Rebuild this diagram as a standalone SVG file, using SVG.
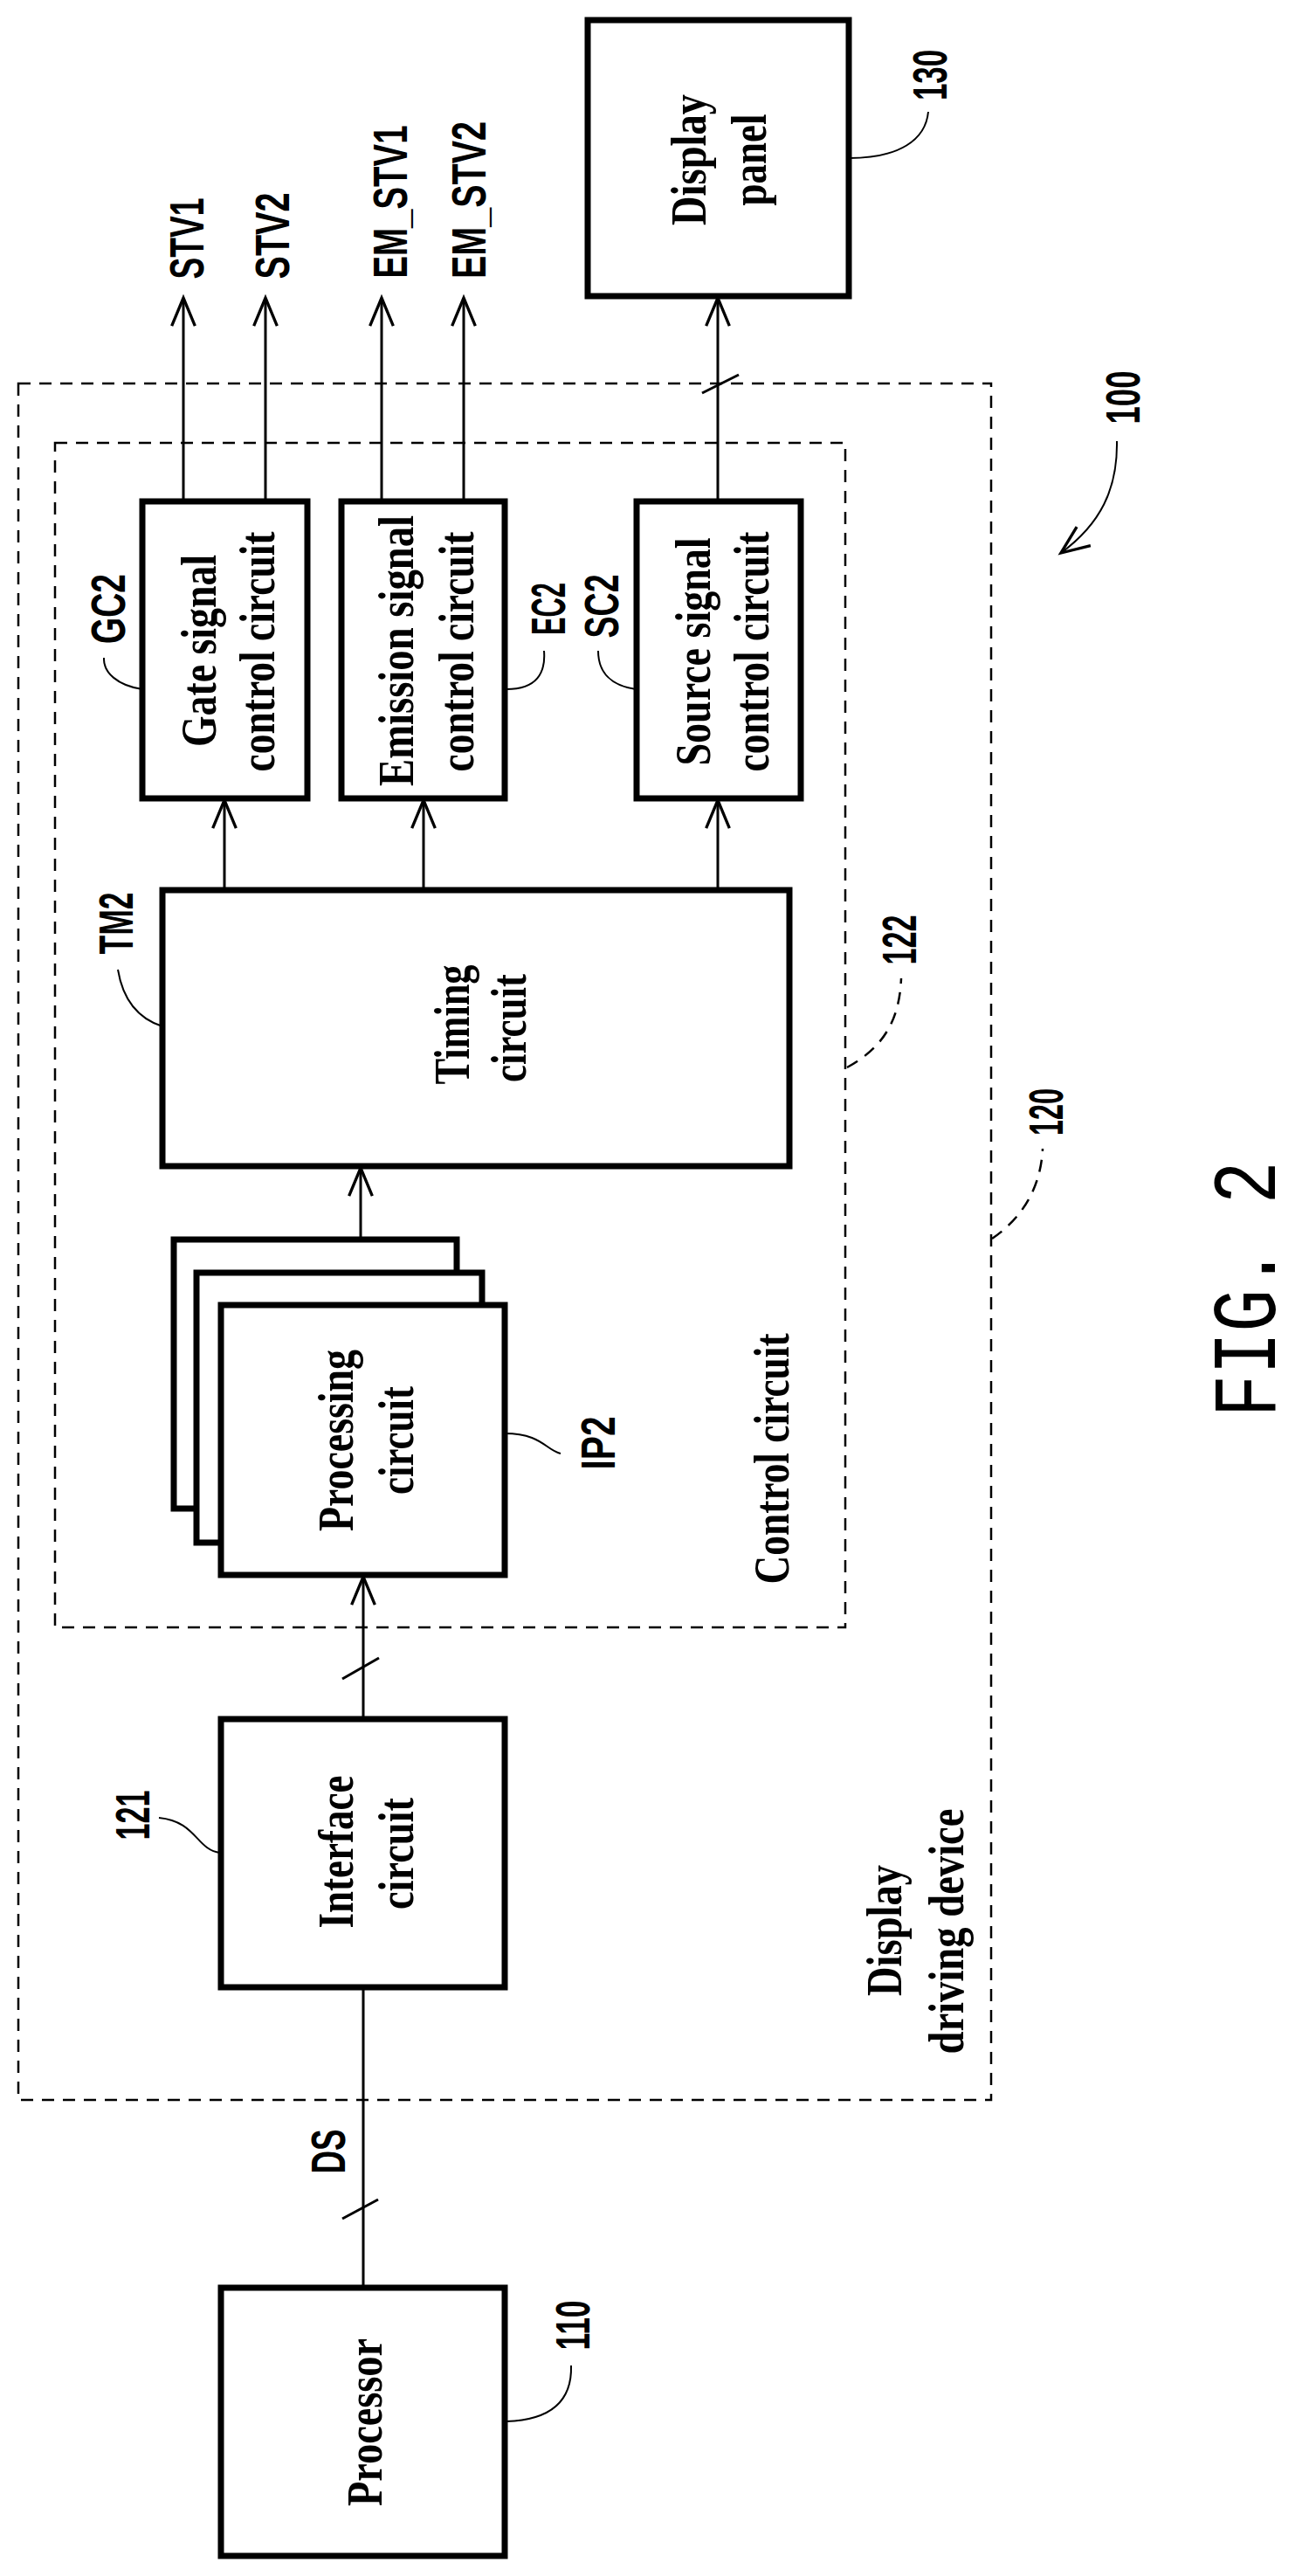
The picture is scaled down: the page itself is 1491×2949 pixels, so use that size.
<svg xmlns="http://www.w3.org/2000/svg" width="1491" height="2949" viewBox="0 0 1491 2949">
<defs>
<marker id="ah" markerUnits="userSpaceOnUse" markerWidth="40" markerHeight="40" viewBox="-32 -16 36 32" refX="0" refY="0" orient="auto">
<path d="M-29,-12 L0,0 L-29,12" fill="none" stroke="#000" stroke-width="3"/>
</marker>
</defs>
<style>
.box{fill:#fff;stroke:#000;stroke-width:7}
.dash{fill:none;stroke:#000;stroke-width:2.5;stroke-dasharray:14 10}
.ln{fill:none;stroke:#000;stroke-width:3}
.lead{fill:none;stroke:#000;stroke-width:2}
.arr{fill:none;stroke:#000;stroke-width:3;marker-end:url(#ah)}
.s{font-family:"Liberation Serif",serif;font-size:58px;font-weight:bold;text-anchor:middle}
.a{font-family:"Liberation Sans",sans-serif;font-size:56px;font-weight:bold;text-anchor:middle}
</style>
<rect width="1491" height="2949" fill="#fff"/>
<g id="frame120"><rect class="dash" x="21" y="439" width="1114" height="1965"/>
<text class="s" textLength="150" lengthAdjust="spacingAndGlyphs" transform="translate(1032,2210) rotate(-90)">Display</text>
<text class="s" textLength="281" lengthAdjust="spacingAndGlyphs" transform="translate(1103,2211) rotate(-90)">driving device</text>
<text class="a" textLength="54" lengthAdjust="spacingAndGlyphs" transform="translate(1217,1273) rotate(-90)">120</text>
<path class="dash" d="M1136,1418 C1170,1395 1192,1360 1194,1315"/></g>
<g id="frame122"><rect class="dash" x="63" y="507" width="905" height="1356"/>
<text class="s" textLength="287" lengthAdjust="spacingAndGlyphs" transform="translate(903,1670) rotate(-90)">Control circuit</text>
<text class="a" textLength="57" lengthAdjust="spacingAndGlyphs" transform="translate(1049,1076) rotate(-90)">122</text>
<path class="dash" d="M970,1222 C1010,1200 1030,1170 1032,1120"/></g>
<g id="connectors">
<line class="arr" x1="416" y1="2619" x2="416" y2="1970"/>
<line class="ln" x1="392" y1="2540" x2="433" y2="2518"/>
<line class="arr" x1="416" y1="1968" x2="416" y2="1805"/>
<line class="ln" x1="392" y1="1922" x2="434" y2="1898"/>
<line class="arr" x1="413" y1="1419" x2="413" y2="1337"/>
<line class="arr" x1="257" y1="1019" x2="257" y2="916"/>
<line class="arr" x1="485" y1="1019" x2="485" y2="916"/>
<line class="arr" x1="822" y1="1019" x2="822" y2="916"/>
<line class="arr" x1="210" y1="574" x2="210" y2="341"/>
<line class="arr" x1="304" y1="574" x2="304" y2="341"/>
<line class="arr" x1="437" y1="574" x2="437" y2="341"/>
<line class="arr" x1="531" y1="574" x2="531" y2="341"/>
<line class="arr" x1="822" y1="574" x2="822" y2="341"/>
<line class="ln" x1="804" y1="450" x2="846" y2="429"/>
<text class="a" textLength="93" lengthAdjust="spacingAndGlyphs" transform="translate(233,273) rotate(-90)">STV1</text>
<text class="a" textLength="99" lengthAdjust="spacingAndGlyphs" transform="translate(331,270) rotate(-90)">STV2</text>
<text class="a" textLength="175" lengthAdjust="spacingAndGlyphs" transform="translate(466,231) rotate(-90)">EM_STV1</text>
<text class="a" textLength="180" lengthAdjust="spacingAndGlyphs" transform="translate(556,229) rotate(-90)">EM_STV2</text>
<text class="a" textLength="51" lengthAdjust="spacingAndGlyphs" transform="translate(395,2463) rotate(-90)">DS</text>
</g>
<g id="n130"><rect class="box" x="673" y="23" width="299" height="316"/>
<text class="s" textLength="150" lengthAdjust="spacingAndGlyphs" transform="translate(808,183) rotate(-90)">Display</text>
<text class="s" textLength="105" lengthAdjust="spacingAndGlyphs" transform="translate(877,183) rotate(-90)">panel</text>
<text class="a" textLength="58" lengthAdjust="spacingAndGlyphs" transform="translate(1084,86) rotate(-90)">130</text>
<path class="lead" d="M972,181 C1030,181 1060,160 1063,128"/></g>
<g id="n100"><text class="a" textLength="61" lengthAdjust="spacingAndGlyphs" transform="translate(1305,455) rotate(-90)">100</text>
<path class="arr" style="stroke-width:2" d="M1279,505 C1280,560 1260,600 1215,633"/></g>
<g id="GC2"><rect class="box" x="163" y="574" width="189" height="340"/>
<text class="s" textLength="220" lengthAdjust="spacingAndGlyphs" transform="translate(247,745) rotate(-90)">Gate signal</text>
<text class="s" textLength="275" lengthAdjust="spacingAndGlyphs" transform="translate(314,746) rotate(-90)">control circuit</text>
<text class="a" textLength="80" lengthAdjust="spacingAndGlyphs" transform="translate(143,697) rotate(-90)">GC2</text>
<path class="lead" d="M163,789 C135,785 118,770 119,753"/></g>
<g id="EC2"><rect class="box" x="391" y="574" width="187" height="340"/>
<text class="s" textLength="310" lengthAdjust="spacingAndGlyphs" transform="translate(473,745) rotate(-90)">Emission signal</text>
<text class="s" textLength="275" lengthAdjust="spacingAndGlyphs" transform="translate(542,746) rotate(-90)">control circuit</text>
<text class="a" textLength="60" lengthAdjust="spacingAndGlyphs" transform="translate(647,697) rotate(-90)">EC2</text>
<path class="lead" d="M580,789 C615,789 625,770 623,745"/></g>
<g id="SC2"><rect class="box" x="729" y="574" width="188" height="340"/>
<text class="s" textLength="261" lengthAdjust="spacingAndGlyphs" transform="translate(813,746) rotate(-90)">Source signal</text>
<text class="s" textLength="275" lengthAdjust="spacingAndGlyphs" transform="translate(880,746) rotate(-90)">control circuit</text>
<text class="a" textLength="73" lengthAdjust="spacingAndGlyphs" transform="translate(708,694) rotate(-90)">SC2</text>
<path class="lead" d="M728,789 C700,785 685,770 685,745"/></g>
<g id="TM2"><rect class="box" x="186" y="1019" width="718" height="316"/>
<text class="s" textLength="137" lengthAdjust="spacingAndGlyphs" transform="translate(537,1173) rotate(-90)">Timing</text>
<text class="s" textLength="124" lengthAdjust="spacingAndGlyphs" transform="translate(602,1177) rotate(-90)">circuit</text>
<text class="a" textLength="71" lengthAdjust="spacingAndGlyphs" transform="translate(152,1057) rotate(-90)">TM2</text>
<path class="lead" d="M186,1175 C155,1165 140,1140 135,1110"/></g>
<g id="IP2"><rect class="box" x="199" y="1419" width="324" height="308"/>
<rect class="box" x="225" y="1457" width="327" height="309"/>
<rect class="box" x="253" y="1494" width="325" height="309"/>
<text class="s" textLength="208" lengthAdjust="spacingAndGlyphs" transform="translate(404,1649) rotate(-90)">Processing</text>
<text class="s" textLength="124" lengthAdjust="spacingAndGlyphs" transform="translate(473,1649) rotate(-90)">circuit</text>
<text class="a" textLength="61" lengthAdjust="spacingAndGlyphs" transform="translate(704,1652) rotate(-90)">IP2</text>
<path class="lead" d="M578,1641 C620,1641 625,1660 642,1664"/></g>
<g id="n121"><rect class="box" x="253" y="1968" width="325" height="307"/>
<text class="s" textLength="175" lengthAdjust="spacingAndGlyphs" transform="translate(404,2120) rotate(-90)">Interface</text>
<text class="s" textLength="128" lengthAdjust="spacingAndGlyphs" transform="translate(473,2122) rotate(-90)">circuit</text>
<text class="a" textLength="57" lengthAdjust="spacingAndGlyphs" transform="translate(171,2078) rotate(-90)">121</text>
<path class="lead" d="M252,2121 C225,2118 225,2085 182,2081"/></g>
<g id="n110"><rect class="box" x="253" y="2619" width="325" height="307"/>
<text class="s" textLength="192" lengthAdjust="spacingAndGlyphs" transform="translate(437,2773) rotate(-90)">Processor</text>
<text class="a" textLength="57" lengthAdjust="spacingAndGlyphs" transform="translate(675,2662) rotate(-90)">110</text>
<path class="lead" d="M580,2772 C640,2770 655,2740 654,2708"/></g>
<text style="font-family:'Liberation Mono',monospace;font-size:104px;text-anchor:middle" textLength="293" lengthAdjust="spacingAndGlyphs" transform="translate(1460,1476) rotate(-90)">FIG. 2</text>
</svg>
